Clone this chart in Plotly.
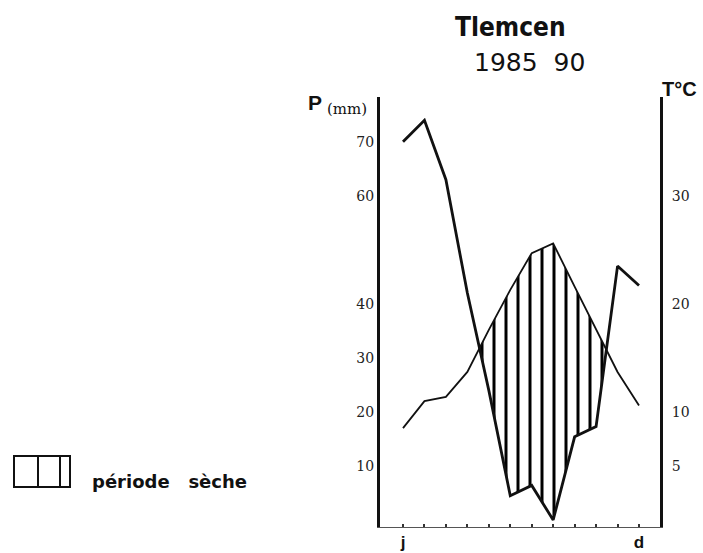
import plotly.graph_objects as go

# ---------------- data ----------------
months = list(range(1, 13))
month_ticktext = ["<b>j</b>", "", "", "", "", "", "", "", "", "", "", "<b>d</b>"]
precip_mm = [70, 74, 63, 42, 24, 4.5, 6.4, 0, 15.4, 17.3, 47, 43.4]
temp_c = [8.5, 11.0, 11.4, 13.7, 17.6, 21.3, 24.7, 25.6, 21.6, 17.6, 13.7, 10.6]
p_tickvals = [10, 20, 30, 40, 60, 70]
t_tickvals = [5, 10, 20, 30]

W, H = 703, 553
ML, MR, MT, MB = 380, 43, 97, 26
P_RANGE = [-1.3, 78.3]
T_RANGE = [P_RANGE[0] / 2, P_RANGE[1] / 2]  # Gaussen: P = 2T
X_RANGE = [-0.072, 12.979]


def dry_polygon(x, p, t2):
    """Polygon(s) of the dry period where 2T > P, built from the data."""
    polys, cur = [], None
    for i in range(len(x)):
        d = t2[i] - p[i]
        if i > 0:
            d0 = t2[i - 1] - p[i - 1]
            if (d0 > 0) != (d > 0):
                f = d0 / (d0 - d)
                xc = x[i - 1] + f * (x[i] - x[i - 1])
                yc = p[i - 1] + f * (p[i] - p[i - 1])
                if d > 0:
                    cur = [(xc, yc, yc)]
                else:
                    cur.append((xc, yc, yc))
                    polys.append(cur)
                    cur = None
        if d > 0:
            if cur is None:
                cur = []
            cur.append((x[i], t2[i], p[i]))
    if cur:
        polys.append(cur)
    xs, ys = [], []
    for poly in polys:
        xs += [q[0] for q in poly] + [q[0] for q in reversed(poly)] + [poly[0][0], None]
        ys += [q[1] for q in poly] + [q[2] for q in reversed(poly)] + [poly[0][1], None]
    return xs, ys


t2 = [2 * t for t in temp_c]
hx, hy = dry_polygon(months, precip_mm, t2)

fig = go.Figure()

fig.add_trace(go.Scatter(
    x=hx, y=hy, mode="lines", fill="toself",
    line=dict(width=0, color="rgba(0,0,0,0)"),
    fillcolor="rgba(0,0,0,0)",
    fillpattern=dict(shape="|", fgcolor="#000", fgopacity=1,
                     bgcolor="rgba(0,0,0,0)", size=12, solidity=0.25),
    hoverinfo="skip", showlegend=False,
))

fig.add_trace(go.Scatter(
    x=months, y=precip_mm, mode="lines",
    line=dict(color="#111", width=2.8),
    showlegend=False, name="P (mm)",
))

fig.add_trace(go.Scatter(
    x=months, y=temp_c, mode="lines", yaxis="y2",
    line=dict(color="#111", width=1.8),
    showlegend=False, name="T (°C)",
))

tick_font = dict(family="DejaVu Serif", size=14, color="#222")

fig.update_layout(
    width=W, height=H,
    margin=dict(l=ML, r=MR, t=MT, b=MB),
    paper_bgcolor="white", plot_bgcolor="white",
    xaxis=dict(range=X_RANGE, tickvals=months, ticktext=month_ticktext,
               ticks="inside", ticklen=3, tickwidth=2, tickcolor="#333",
               showline=True, linecolor="#555", linewidth=1,
               showgrid=False, zeroline=False, automargin=False,
               ticklabelstandoff=0,
               tickfont=dict(family="Liberation Sans", size=17, color="#111")),
    yaxis=dict(range=P_RANGE, tickvals=p_tickvals, ticks="",
               showline=True, linecolor="#111", linewidth=3, automargin=False,
               showgrid=False, zeroline=False, tickfont=tick_font),
    yaxis2=dict(range=T_RANGE, tickvals=t_tickvals, ticks="", overlaying="y",
                side="right", showline=True, linecolor="#111", linewidth=3,
                showgrid=False, zeroline=False, tickfont=tick_font,
                automargin=False, ticklabelstandoff=6),
)

PW = W - ML - MR
PH = H - MT - MB


def px(xp):
    return (xp - ML) / PW


def py(yp):
    return (H - MB - yp) / PH


ann = [
    dict(text="<b>Tlemcen</b>", x=px(510), y=py(27),
         font=dict(family="DejaVu Sans Condensed", size=26, color="#111")),
    dict(text="1985  90", x=px(529), y=py(63),
         font=dict(family="DejaVu Sans", size=25, color="#111")),
    dict(text="<b>P</b>", x=px(315), y=py(102),
         font=dict(family="Liberation Sans", size=21, color="#111")),
    dict(text="(mm)", x=px(347), y=py(109),
         font=dict(family="DejaVu Serif", size=15, color="#111")),
    dict(text="<b>T°C</b>", x=px(679), y=py(89),
         font=dict(family="Liberation Sans", size=20, color="#111")),
    dict(text="<b>période   sèche</b>", x=px(90), y=py(481), xanchor="left",
         font=dict(family="DejaVu Sans", size=18, color="#111")),
]
for a in ann:
    a.setdefault("xanchor", "center")
    fig.add_annotation(xref="paper", yref="paper", yanchor="middle",
                       showarrow=False, **a)

# legend swatch for the hatched dry period
fig.add_shape(type="rect", xref="paper", yref="paper",
              x0=px(14), x1=px(70), y0=py(487), y1=py(456),
              line=dict(color="#111", width=2), fillcolor="rgba(0,0,0,0)")
for lx in (38, 60):
    fig.add_shape(type="line", xref="paper", yref="paper",
                  x0=px(lx), x1=px(lx), y0=py(487), y1=py(456),
                  line=dict(color="#111", width=2))

fig.write_html("out.html")
